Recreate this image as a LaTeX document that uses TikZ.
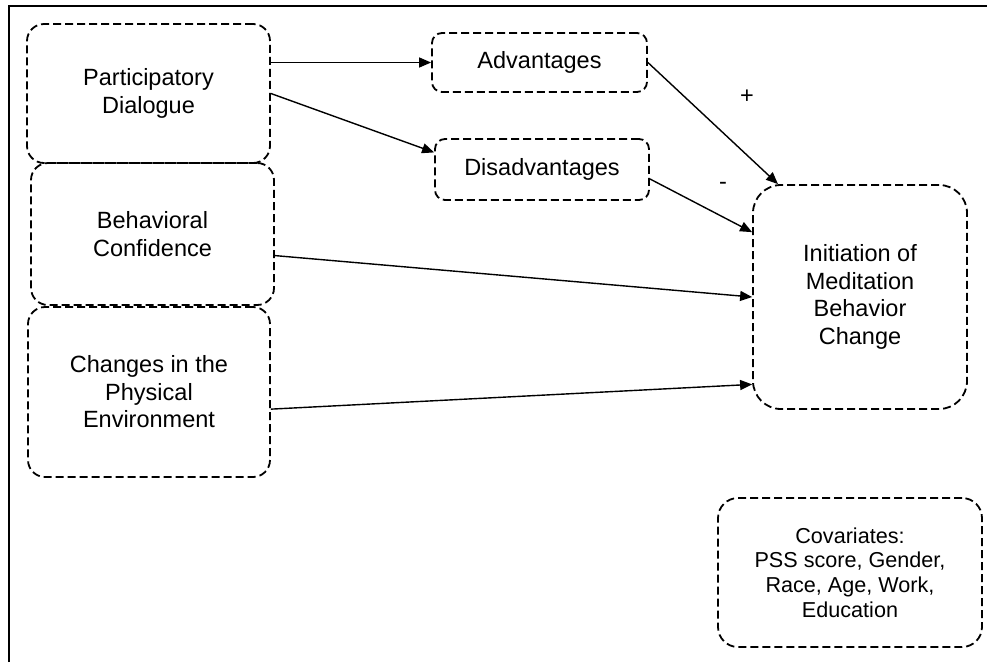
\documentclass[tikz,border=0pt]{standalone}
\usepackage{fontspec}
\setmainfont{Liberation Sans}
\usepackage{tikz}
\usetikzlibrary{arrows.meta}

\begin{document}
\begin{tikzpicture}[x=1pt,y=-1pt,
  box/.style={draw,dash pattern=on 8pt off 4pt,line width=1.8pt,align=center,inner sep=0pt,
    font=\fontsize{23.5}{27.5}\selectfont},
  >={Triangle[length=12pt,width=10pt]}]
\useasboundingbox (0,0) rectangle (987,662);
\draw[line width=2.2pt] (9,662)--(9,6)--(987,6);
\node[box,rounded corners=17pt,minimum width=243pt,minimum height=139pt] (dialogue) at (148.5,93.5) {Participatory\\Dialogue};
\node[box,rounded corners=17pt,minimum width=243pt,minimum height=142pt] (confidence) at (152.5,234) {Behavioral\\Confidence};
\node[box,rounded corners=17pt,minimum width=242pt,minimum height=170pt] (environment) at (149,392) {Changes in the\\Physical\\Environment};
\node[box,rounded corners=10pt,minimum width=215pt,minimum height=59pt] (adv) at (539.5,62.5) {Advantages};
\node[box,rounded corners=10pt,minimum width=214pt,minimum height=61pt] (disadv) at (542,169.5) {Disadvantages};
\node[box,rounded corners=28pt,minimum width=214pt,minimum height=224pt] (initiation) at (860,297) {Initiation of\\Meditation\\Behavior\\Change};
\node[box,rounded corners=20pt,minimum width=264pt,minimum height=149pt,font=\fontsize{21.6}{24.7}\selectfont] (covariates) at (850,572.5) {Covariates:\\PSS score, Gender,\\Race, Age, Work,\\Education};
\node[font=\fontsize{23.5}{27.5}\selectfont] (plus) at (747,97) {+};
\node[font=\fontsize{23.5}{27.5}\selectfont] (minus) at (723,186) {-};
\draw[->,line width=1.4pt] (dialogue.east |- adv.west)--(adv.west);
\draw[->,line width=1.4pt] (dialogue.east)--(disadv.171);
\draw[->,line width=1.4pt] (adv.east)--(initiation.126);
\draw[->,line width=1.4pt] (disadv.-5)--(initiation.149);
\draw[->,line width=1.4pt] (confidence.-10)--(initiation.west);
\draw[->,line width=1.4pt] (environment.-8)--(initiation.219);
\end{tikzpicture}
\end{document}
